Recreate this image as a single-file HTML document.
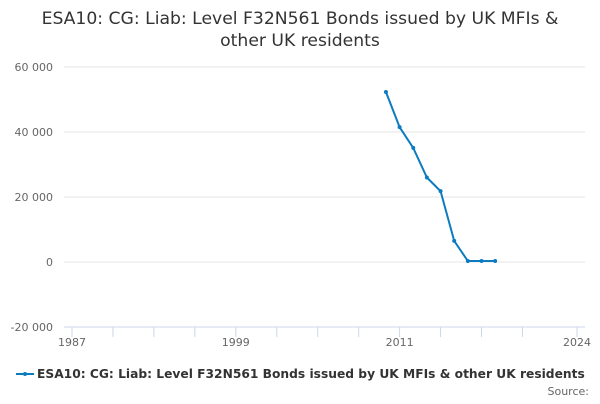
<!DOCTYPE html>
<html><head><meta charset="utf-8"><style>
body{margin:0;background:#fff;font-family:"DejaVu Sans","Liberation Sans",sans-serif;}
svg text{font-family:"DejaVu Sans","Liberation Sans",sans-serif;}
</style></head><body>
<svg id="chart" width="600" height="400" xmlns="http://www.w3.org/2000/svg">
<text x="300" y="24" text-anchor="middle" font-size="17.2" fill="#333">ESA10: CG: Liab: Level F32N561 Bonds issued by UK MFIs &amp;</text>
<text x="300" y="46" text-anchor="middle" font-size="17.2" fill="#333">other UK residents</text>
<g id="grid"></g><g id="xaxis"></g><g id="series"></g>
<g>
<line x1="16" y1="374" x2="34" y2="374" stroke="#0c7bc0" stroke-width="2"/>
<circle cx="25" cy="374" r="2" fill="#0c7bc0"/>
<text x="37" y="378" font-size="12.25" font-weight="bold" fill="#333">ESA10: CG: Liab: Level F32N561 Bonds issued by UK MFIs &amp; other UK residents</text>
</g>
<text x="589" y="395" text-anchor="end" font-size="11" fill="#666">Source:</text>
</svg>
<script>
const years=[2010,2011,2012,2013,2014,2015,2016,2017,2018];
const values=[52300,41500,35100,26000,21800,6500,300,300,300];
const yTicks=[-20000,0,20000,40000,60000];
const yTickLabels=["-20 000","0","20 000","40 000","60 000"];
const xTickYears=[1987,1990,1993,1996,1999,2002,2005,2008,2011,2014,2017,2020,2024];
const xLabelYears=[1987,1999,2011,2024];
const NS="http://www.w3.org/2000/svg";
const X=y=>72+(y-1987)*13.65;
const Y=v=>262-v*65/20000;
function mk(t,a,p){const e=document.createElementNS(NS,t);for(const k in a)e.setAttribute(k,a[k]);p.appendChild(e);return e;}
const grid=document.getElementById('grid'),xa=document.getElementById('xaxis'),se=document.getElementById('series');
yTicks.forEach((v,i)=>{
 const l=mk('line',{x1:64,x2:585,y1:Y(v),y2:Y(v),stroke:v===-20000?'#ccd6eb':'#e6e6e6','stroke-width':1},grid);
 
 
 const t=mk('text',{x:53,y:Y(v)+4,'text-anchor':'end','font-size':11,fill:'#666'},grid);
 t.textContent=yTickLabels[i];
 
 
});
xTickYears.forEach(yr=>{
 const l=mk('line',{x1:X(yr),x2:X(yr),y1:327,y2:337,stroke:'#ccd6eb'},xa);
 
 
});
xLabelYears.forEach(yr=>{
 const t=mk('text',{x:X(yr),y:346,'text-anchor':'middle','font-size':11,fill:'#666'},xa);
 t.textContent=yr;
 
 
});
const p=mk('polyline',{points:years.map((y,i)=>X(y)+','+Y(values[i])).join(' '),fill:'none',stroke:'#0c7bc0','stroke-width':2},se);


years.forEach((y,i)=>{
 const c=mk('circle',{cx:X(y),cy:Y(values[i]),r:2,fill:'#0c7bc0'},se);
 
 
});
</script>
</body></html>
